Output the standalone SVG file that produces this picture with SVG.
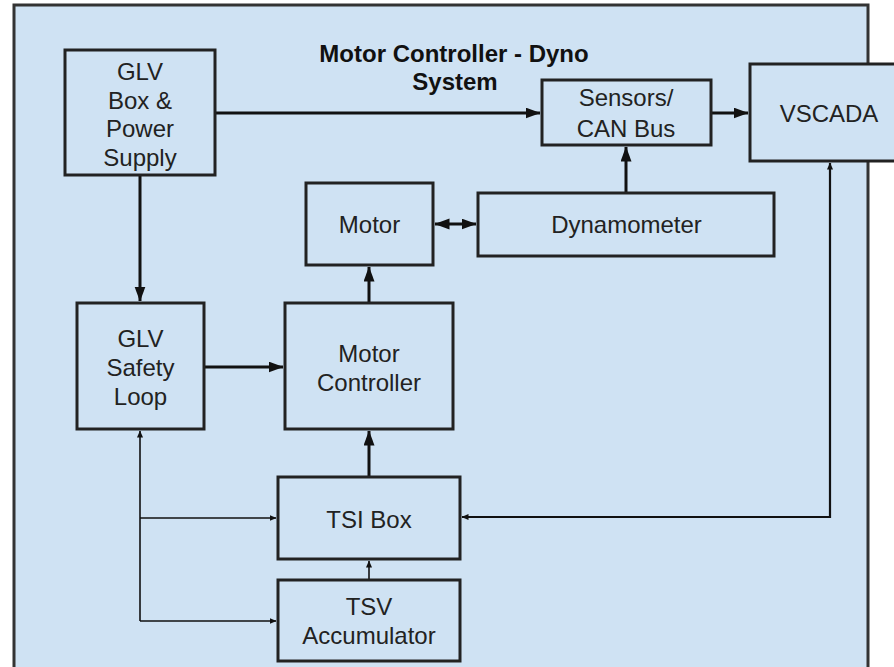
<svg xmlns="http://www.w3.org/2000/svg" width="894" height="667" viewBox="0 0 894 667">
  <style>
    .box { fill: #cfe2f3; stroke: #222; stroke-width: 3; }
    .lbl { font-family: "Liberation Sans", Arial, sans-serif; font-size: 24px; fill: #222; text-anchor: middle; }
    .title { font-family: "Liberation Sans", Arial, sans-serif; font-size: 24px; font-weight: bold; fill: #111; text-anchor: middle; }
    .thick { fill: none; stroke: #111; stroke-width: 3; }
    .thin { fill: none; stroke: #111; stroke-width: 1.6; }
    .mid { fill: none; stroke: #111; stroke-width: 2.2; }
  </style>
  <defs>
    <marker id="ah" markerUnits="userSpaceOnUse" markerWidth="16" markerHeight="12" refX="14.5" refY="5.5" orient="auto-start-reverse">
      <path d="M0,0 L15,5.5 L0,11 z" fill="#111"/>
    </marker>
    <marker id="as" markerUnits="userSpaceOnUse" markerWidth="8" markerHeight="7" refX="6.5" refY="3" orient="auto-start-reverse">
      <path d="M0,0 L7,3 L0,6 z" fill="#111"/>
    </marker>
  </defs>
  <rect x="0" y="0" width="894" height="667" fill="#ffffff"/>
  <rect x="14" y="5" width="854" height="670" fill="#cfe2f3" stroke="#333" stroke-width="3"/>
  <g id="title">
    <text class="title" x="454" y="62">Motor Controller - Dyno</text>
    <text class="title" x="455" y="90">System</text>
  </g>
  <g id="connectors">
    <path class="thick" d="M215,113 L540,113" marker-end="url(#ah)"/>
    <path class="thick" d="M711,113 L748,113" marker-end="url(#ah)"/>
    <path class="thick" d="M626,192 L626,147" marker-end="url(#ah)"/>
    <path class="thick" d="M435,224 L476,224" marker-start="url(#ah)" marker-end="url(#ah)"/>
    <path class="thick" d="M369,302 L369,267" marker-end="url(#ah)"/>
    <path class="thick" d="M140,175 L140,301" marker-end="url(#ah)"/>
    <path class="thick" d="M204,367 L283,367" marker-end="url(#ah)"/>
    <path class="thick" d="M369,476 L369,431" marker-end="url(#ah)"/>
    <path class="thin" d="M369,580 L369,561" marker-end="url(#as)"/>
    <path class="thin" d="M140,621 L140,431" marker-end="url(#as)"/>
    <path class="thin" d="M140,518 L276,518" marker-end="url(#as)"/>
    <path class="thin" d="M140,621 L276,621" marker-end="url(#as)"/>
    <path class="mid" d="M462,517 L830,517 L830,163" marker-start="url(#as)" marker-end="url(#as)"/>
  </g>
  <g id="glv-box">
    <rect class="box" x="65" y="50" width="150" height="125"/>
    <text class="lbl" x="140" y="80">GLV</text>
    <text class="lbl" x="140" y="108.5">Box &amp;</text>
    <text class="lbl" x="140" y="137">Power</text>
    <text class="lbl" x="140" y="165.5">Supply</text>
  </g>
  <g id="sensors">
    <rect class="box" x="542" y="80" width="169" height="65"/>
    <text class="lbl" x="626" y="105.5">Sensors/</text>
    <text class="lbl" x="626" y="136.5">CAN Bus</text>
  </g>
  <g id="vscada">
    <rect class="box" x="750" y="64" width="160" height="97"/>
    <text class="lbl" x="829" y="122">VSCADA</text>
  </g>
  <g id="motor">
    <rect class="box" x="306" y="183" width="127" height="82"/>
    <text class="lbl" x="369.5" y="233">Motor</text>
  </g>
  <g id="dynamometer">
    <rect class="box" x="478" y="193" width="296" height="63"/>
    <text class="lbl" x="626.5" y="233">Dynamometer</text>
  </g>
  <g id="safety-loop">
    <rect class="box" x="77" y="303" width="127" height="126"/>
    <text class="lbl" x="140.5" y="346.5">GLV</text>
    <text class="lbl" x="140.5" y="375.5">Safety</text>
    <text class="lbl" x="140.5" y="404.5">Loop</text>
  </g>
  <g id="motor-controller">
    <rect class="box" x="285" y="303" width="168" height="126"/>
    <text class="lbl" x="369" y="361.5">Motor</text>
    <text class="lbl" x="369" y="390.5">Controller</text>
  </g>
  <g id="tsi-box">
    <rect class="box" x="278" y="477" width="182" height="82"/>
    <text class="lbl" x="369" y="527.5">TSI Box</text>
  </g>
  <g id="tsv-accumulator">
    <rect class="box" x="278" y="580" width="182" height="81"/>
    <text class="lbl" x="369" y="614.5">TSV</text>
    <text class="lbl" x="369" y="643.5">Accumulator</text>
  </g>
</svg>
